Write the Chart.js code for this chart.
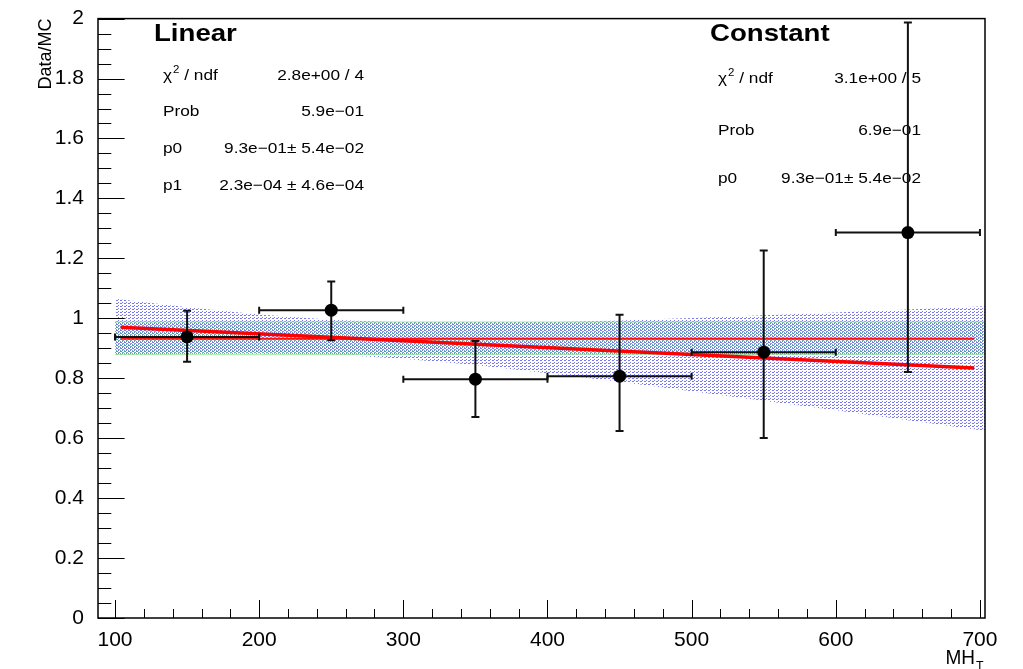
<!DOCTYPE html>
<html>
<head>
<meta charset="utf-8">
<script src="https://cdn.jsdelivr.net/npm/chart.js@4.4.1/dist/chart.umd.min.js"></script>
<style>
html,body{margin:0;padding:0;background:#fff;}
canvas{display:block;}
</style>
</head>
<body>
<canvas id="c" width="1023" height="669"></canvas>
<script>
// ---------------- data ----------------
const xCenters   = [150, 250, 350, 450, 550, 650];
const xHalfWidth = [50, 50, 50, 50, 50, 50];
const ratio      = [0.938, 1.027, 0.797, 0.807, 0.887, 1.286];
const errUp      = [0.087, 0.096, 0.127, 0.205, 0.339, 0.701];
const errDown    = [0.083, 0.100, 0.126, 0.183, 0.286, 0.465];

const linFitX = [104, 696];
const linFitY = [0.970, 0.834];
const constFitX = [104, 696];
const constFitY = [0.932, 0.932];

const linBandX    = [100, 150, 200, 250, 300, 350, 400, 450, 500, 550, 600, 650, 703.5];
const linBandLow  = [0.877, 0.882, 0.883, 0.879, 0.865, 0.844, 0.817, 0.788, 0.757, 0.725, 0.693, 0.660, 0.625];
const linBandHigh = [1.065, 1.037, 1.013, 0.995, 0.986, 0.984, 0.987, 0.993, 1.001, 1.010, 1.019, 1.029, 1.040];

const constBandX    = [100, 703.5];
const constBandLow  = [0.879, 0.879];
const constBandHigh = [0.988, 0.988];

const xTicks = [100, 200, 300, 400, 500, 600, 700];
const xTickLabels = ['100', '200', '300', '400', '500', '600', '700'];
const yTicks = [0, 0.2, 0.4, 0.6, 0.8, 1, 1.2, 1.4, 1.6, 1.8, 2];
const yTickLabels = ['0', '0.2', '0.4', '0.6', '0.8', '1', '1.2', '1.4', '1.6', '1.8', '2'];
const xMinorStep = 20;
const yMinorStep = 0.05;

const linTitle = 'Linear';
const linStatLabels = ['chi2', 'Prob', 'p0', 'p1'];
const linStatValues = ['2.8e+00 / 4', '5.9e\u221201', '9.3e\u221201\u00b1 5.4e\u221202', '2.3e\u221204 \u00b1 4.6e\u221204'];
const constTitle = 'Constant';
const constStatLabels = ['chi2', 'Prob', 'p0'];
const constStatValues = ['3.1e+00 / 5', '6.9e\u221201', '9.3e\u221201\u00b1 5.4e\u221202'];

// ---------------- helpers ----------------
const FONT = "'Liberation Sans', Arial, Helvetica, sans-serif";
const SX = 1.15;

function makePattern(color, w, h, on) {
  const c = document.createElement('canvas');
  c.width = w; c.height = h;
  const g = c.getContext('2d');
  g.fillStyle = color;
  for (const p of on) g.fillRect(p[0], p[1], 1, 1);
  return document.createElement('canvas').getContext('2d').createPattern(c, 'repeat');
}
const bluePattern = makePattern('rgb(120,120,238)', 4, 3, [[0, 0], [1, 0], [2, 2]]);
const tealPattern = makePattern('rgb(105,175,180)', 4, 3, [[2, 1], [3, 1], [0, 2]]);

function pts(xs, ys) { return xs.map((x, i) => ({x: x, y: ys[i]})); }

function sText(ctx, str, x, y, font, align, sx) {
  ctx.save();
  ctx.translate(x, y);
  ctx.scale(sx || SX, 1);
  ctx.font = font;
  ctx.textAlign = align || 'left';
  ctx.textBaseline = 'alphabetic';
  ctx.fillStyle = '#000';
  ctx.fillText(str, 0, 0);
  ctx.restore();
}
function chiLabel(ctx, x, y, size) {
  ctx.save();
  ctx.font = size + 'px ' + FONT;
  const w1 = ctx.measureText('\u03c7').width * SX;
  ctx.font = Math.round(size * 0.65) + 'px ' + FONT;
  const w2 = ctx.measureText('2').width * SX;
  ctx.restore();
  sText(ctx, '\u03c7', x, y, size + 'px ' + FONT);
  sText(ctx, '2', x + w1 + 1, y - size * 0.45, Math.round(size * 0.65) + 'px ' + FONT);
  sText(ctx, ' / ndf', x + w1 + w2 + 1, y, size + 'px ' + FONT);
}
function statBlock(ctx, title, tx, ty, labels, values, lx, rx, ys) {
  sText(ctx, title, tx, ty, 'bold 24px ' + FONT);
  labels.forEach((l, i) => {
    if (l === 'chi2') chiLabel(ctx, lx, ys[i], 15);
    else sText(ctx, l, lx, ys[i], '15px ' + FONT);
    sText(ctx, values[i], rx, ys[i], '15px ' + FONT, 'right');
  });
}

const rootPlugin = {
  id: 'rootStyle',
  beforeDatasetsDraw(chart) {
    const ctx = chart.ctx;
    statBlock(ctx, linTitle, 154, 41, linStatLabels, linStatValues, 163, 364, [80, 116, 153, 190]);
    statBlock(ctx, constTitle, 710, 41, constStatLabels, constStatValues, 718, 921, [83, 135, 183]);
  },
  afterDatasetsDraw(chart) {
    const ctx = chart.ctx;
    const xs = chart.scales.x, ys = chart.scales.y;
    const a = chart.chartArea;
    ctx.save();
    // error bars
    ctx.strokeStyle = '#111';
    ctx.lineWidth = 2;
    xCenters.forEach((xc, i) => {
      const px = xs.getPixelForValue(xc);
      const py = ys.getPixelForValue(ratio[i]);
      const pl = xs.getPixelForValue(xc - xHalfWidth[i]);
      const pr = xs.getPixelForValue(xc + xHalfWidth[i]);
      const pt = Math.max(ys.getPixelForValue(ratio[i] + errUp[i]), a.top);
      const pb = ys.getPixelForValue(ratio[i] - errDown[i]);
      ctx.beginPath();
      ctx.moveTo(pl, py); ctx.lineTo(pr, py);
      ctx.moveTo(pl, py - 3.5); ctx.lineTo(pl, py + 3.5);
      ctx.moveTo(pr, py - 3.5); ctx.lineTo(pr, py + 3.5);
      ctx.moveTo(px, pt); ctx.lineTo(px, pb);
      ctx.moveTo(px - 4, pt); ctx.lineTo(px + 4, pt);
      ctx.moveTo(px - 4, pb); ctx.lineTo(px + 4, pb);
      ctx.stroke();
      ctx.fillStyle = '#000';
      ctx.beginPath();
      ctx.arc(px, py, 6.5, 0, Math.PI * 2);
      ctx.fill();
    });
    // ticks
    ctx.strokeStyle = '#000';
    ctx.lineWidth = 1;
    const yLen = 0.03 * (a.right - a.left), xLen = 0.03 * (a.bottom - a.top);
    ctx.beginPath();
    for (let k = 0; k <= Math.round((ys.max - ys.min) / yMinorStep); k++) {
      const v = ys.min + k * yMinorStep;
      const major = yTicks.some(t => Math.abs(t - v) < 1e-6);
      const p = Math.round(ys.getPixelForValue(v)) + 0.5;
      ctx.moveTo(a.left, p); ctx.lineTo(a.left + (major ? yLen : yLen / 2), p);
    }
    const x0 = Math.ceil(xs.min / xMinorStep) * xMinorStep;
    for (let v = x0; v <= xs.max + 1e-6; v += xMinorStep) {
      const major = xTicks.includes(v);
      const p = Math.round(xs.getPixelForValue(v)) + 0.5;
      ctx.moveTo(p, a.bottom); ctx.lineTo(p, a.bottom - (major ? xLen : xLen / 2));
    }
    ctx.stroke();
    // frame
    ctx.lineWidth = 1.5;
    ctx.strokeRect(a.left, a.top, a.right - a.left, a.bottom - a.top);
    ctx.restore();
    // axis titles
    ctx.save();
    ctx.translate(51, a.top);
    ctx.rotate(-Math.PI / 2);
    ctx.font = '18px ' + FONT;
    ctx.textAlign = 'right';
    ctx.fillStyle = '#000';
    ctx.fillText('Data/MC', 0, 0);
    ctx.restore();
    sText(ctx, 'MH', 975, 664, '20px ' + FONT, 'right', 0.95);
    sText(ctx, 'T', 976, 670, '13px ' + FONT, 'left', 0.95);
  }
};

new Chart(document.getElementById('c'), {
  type: 'line',
  data: {
    datasets: [
      {label: 'data', data: pts(xCenters, ratio), showLine: false, pointRadius: 0, order: 0},
      {label: 'linear fit', data: pts(linFitX, linFitY), borderColor: '#ff0000', borderWidth: 3.5, pointRadius: 0, fill: false, order: 1},
      {label: 'constant fit', data: pts(constFitX, constFitY), borderColor: '#ff1010', borderWidth: 2, pointRadius: 0, fill: false, order: 2},
      {label: 'const band low', data: pts(constBandX, constBandLow), borderColor: 'rgba(150,235,150,0.8)', borderWidth: 1, pointRadius: 0, fill: false, order: 3},
      {label: 'const band high', data: pts(constBandX, constBandHigh), borderColor: 'rgba(150,235,150,0.8)', borderWidth: 1, pointRadius: 0, fill: 3, backgroundColor: tealPattern, order: 3},
      {label: 'lin band low', data: pts(linBandX, linBandLow), borderWidth: 0, borderColor: 'rgba(0,0,0,0)', pointRadius: 0, fill: false, order: 4},
      {label: 'lin band high', data: pts(linBandX, linBandHigh), borderWidth: 0, borderColor: 'rgba(0,0,0,0)', pointRadius: 0, fill: 5, backgroundColor: bluePattern, order: 4}
    ]
  },
  options: {
    responsive: false,
    animation: false,
    devicePixelRatio: 1,
    layout: {padding: {top: 15, right: 38, left: 0, bottom: 0}},
    plugins: {legend: {display: false}, tooltip: {enabled: false}, title: {display: false}},
    elements: {line: {tension: 0}},
    scales: {
      x: {
        type: 'linear', min: 88.2, max: 703.5,
        grid: {display: false}, border: {display: false},
        afterBuildTicks: s => { s.ticks = xTicks.map(v => ({value: v})); },
        afterFit: s => { s.height = 51; },
        ticks: {color: '#000', font: {family: FONT, size: 21}, padding: 2, maxRotation: 0,
                callback: (v, i) => xTickLabels[i]}
      },
      y: {
        type: 'linear', min: 0, max: 2,
        grid: {display: false}, border: {display: false},
        afterBuildTicks: s => { s.ticks = yTicks.map(v => ({value: v})); },
        afterFit: s => { s.width = 98; },
        ticks: {color: '#000', font: {family: FONT, size: 21}, padding: 6,
                callback: (v, i) => yTickLabels[i]}
      }
    }
  },
  plugins: [rootPlugin]
});
</script>
</body>
</html>
